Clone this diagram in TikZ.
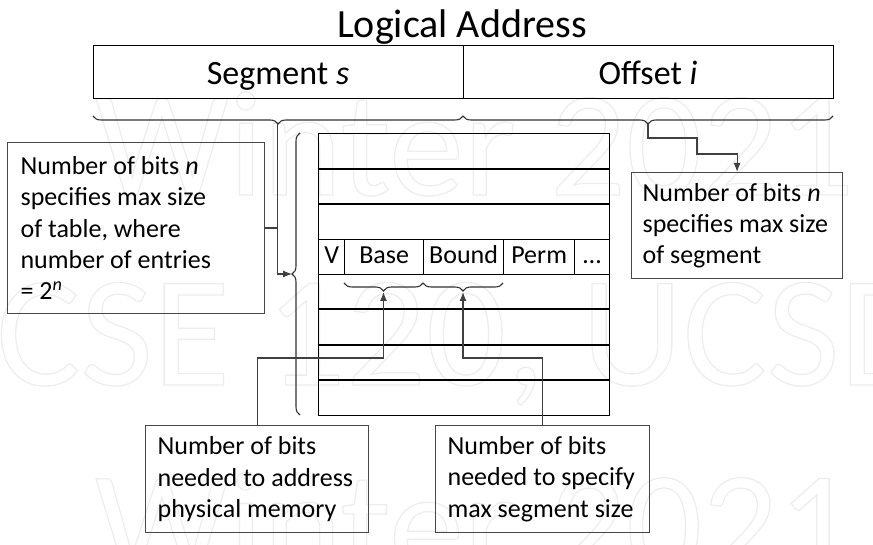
\documentclass[tikz,border=0pt]{standalone}
\usepackage{fontspec}
\setmainfont{Carlito}
\usetikzlibrary{decorations.pathreplacing,arrows.meta}
\newcommand{\wmtext}[1]{\special{pdf:literal direct 1 Tr 1.3 w}#1\special{pdf:literal direct 0 Tr}}
\begin{document}
\begin{tikzpicture}[x=1pt,y=-1pt,
  wm/.style={anchor=base west, text=black!7, inner sep=0pt, font=\fontsize{150}{150}\selectfont},
  callout/.style={draw=black!72, line width=1.2pt, anchor=north west, inner sep=0pt,
    font=\fontsize{26}{31.3}\selectfont, align=flush left},
  addr/.style={draw=black, line width=1.2pt, anchor=north west, inner sep=0pt,
    minimum width=370pt, minimum height=53pt, font=\fontsize{34}{40}\selectfont},
  cell/.style={draw=black, line width=1.3pt, anchor=north west, inner sep=0pt,
    minimum height=35pt, text height=18pt, text depth=6pt, font=\fontsize{26}{31}\selectfont},
  rowline/.style={draw=black, line width=1.3pt},
  brc/.style={decorate, decoration={brace, amplitude=8pt, mirror}, draw=black!80, line width=1.1pt},
  conn/.style={draw=black!75, line width=1.2pt},
  tip/.style={-{Latex[length=9pt,width=7pt]}}
]
\useasboundingbox (0,0) rectangle (873,545);
% watermark
\node[wm] (wm1) at (95,195) {\wmtext{Winter 2021}};
\node[wm, font=\fontsize{158}{158}\selectfont] (wm2) at (-4,385) {\wmtext{CSE 120, UCSD}};
\node[wm] (wm3) at (95,575) {\wmtext{Winter 2021}};

% title and logical address
\node[anchor=base, inner sep=0pt, font=\fontsize{40}{46}\selectfont] (title) at (462,38) {Logical Address};
\node[addr] (seg) at (93,45) {};
\node[addr] (off) at (463,45) {};
\node[anchor=base, inner sep=0pt, font=\fontsize{34}{40}\selectfont] (segtxt) at (278,85) {Segment \textit{s}};
\node[anchor=base, inner sep=0pt, font=\fontsize{34}{40}\selectfont] (offtxt) at (648,85) {Offset \textit{i}};

% braces under the address
\draw[brc] (93,116) -- (463,116);
\draw[brc] (463,116) -- (833,116);
\coordinate (segtip) at (277.5,124);
\coordinate (offtip) at (648,124);

% segment table
\node[draw=black, line width=1.3pt, anchor=north west, inner sep=0pt,
  minimum width=291pt, minimum height=282pt] (tbl) at (318,133) {};
\foreach \yy in {169,204,309,345,380} \draw[rowline] (318,\yy) -- (609,\yy);
\node[cell, minimum width=26pt] (cv) at (318,239) {V};
\node[cell, minimum width=79pt] (cbase) at (344,239) {Base};
\node[cell, minimum width=80pt] (cbound) at (423,239) {Bound};
\node[cell, minimum width=71pt] (cperm) at (503,239) {Perm};
\node[cell, minimum width=35pt] (cdots) at (574,239) {…};

% vertical brace beside the table
\draw[brc] (300,133) -- (300,415);
\coordinate (vbtip) at (292,274);

% braces under Base and Bound
\draw[brc] (344,283) -- (423,283);
\draw[brc] (423,283) -- (503,283);
\coordinate (basetip) at (383.5,292);
\coordinate (boundtip) at (463,292);

% callout boxes
\node[callout, minimum width=257pt, minimum height=171pt, text width=231pt] (tabbox) at (7,142)
  {\mbox{Number of bits \textit{n}}\\\mbox{specifies max size}\\\mbox{of table, where}\\\mbox{number of entries}\\\mbox{= 2\textsuperscript{\textit{n}}}};
\node[callout, minimum width=211pt, minimum height=106pt, text width=189pt] (offbox) at (631,172)
  {\mbox{Number of bits \textit{n}}\\\mbox{specifies max size}\\\mbox{of segment}};
\node[callout, minimum width=223pt, minimum height=107pt, text width=199pt] (physbox) at (145,425)
  {\mbox{Number of bits}\\\mbox{needed to address}\\\mbox{physical memory}};
\node[callout, minimum width=214pt, minimum height=107pt, text width=190pt] (sizebox) at (435,425)
  {\mbox{Number of bits}\\\mbox{needed to specify}\\\mbox{max segment size}};

% connectors
\draw[conn, tip] (segtip) |- (vbtip);
\draw[conn] (tabbox.east) -- (tabbox.east -| segtip);
\draw[conn, tip] (offtip) -- (648,138) -- (697,138) -- (697,154) -- (offbox.north |- 0,154) -- (offbox.north);
\draw[conn, tip] (physbox.north) -- (physbox.north |- 0,358) -- (basetip |- 0,358) -- (basetip);
\draw[conn, tip] (sizebox.north) -- (sizebox.north |- 0,358) -- (boundtip |- 0,358) -- (boundtip);
\end{tikzpicture}
\end{document}
